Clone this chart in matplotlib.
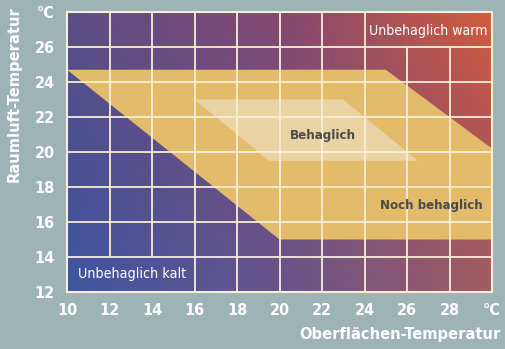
import numpy as np
import matplotlib
matplotlib.use("Agg")
import matplotlib.pyplot as plt
from matplotlib.patches import Polygon
from matplotlib import font_manager
from matplotlib.font_manager import FontProperties

# ---- data ----
x_ticks = [10, 12, 14, 16, 18, 20, 22, 24, 26, 28, 30]
x_labels = ["10", "12", "14", "16", "18", "20", "22", "24", "26", "28", "°C"]
y_ticks = [12, 14, 16, 18, 20, 22, 24, 26, 28]
y_labels = ["12", "14", "16", "18", "20", "22", "24", "26", "°C"]

# "Noch behaglich" band (surface temp, air temp)
band_x = [10, 25, 30, 30, 20]
band_y = [24.7, 24.7, 20.2, 15, 15]
# "Behaglich" zone
comf_x = [16, 23, 26.5, 19.5]
comf_y = [23, 23, 19.5, 19.5]


def find_font(bold):
    cands = []
    for f in font_manager.fontManager.ttflist:
        fn = f.fname.lower()
        if "italic" in fn or "oblique" in fn or "mono" in fn or ("serif" in fn and "sans" not in fn):
            continue
        if ("narrow" in fn or "condensed" in fn) and "sans" in fn:
            isbold = "bold" in fn
            if isbold == bold:
                cands.append(f.fname)
    if cands:
        cands.sort(key=lambda s: (0 if "liberation" in s.lower() else 1, s))
        return FontProperties(fname=cands[0])
    return FontProperties(family="Liberation Sans", weight="bold" if bold else "normal")


fp_reg = find_font(False)
fp_bold = find_font(True)

bg = "#9eb4b4"
fig = plt.figure(figsize=(5.06, 3.49), dpi=100, facecolor=bg)
ax = fig.add_axes([67/506, 1-292/349, (492-67)/506, (292-12)/349])
ax.set_facecolor(bg)

# gradient background (3x3 control colours, top row first)
ctrl = np.array([
    [[90, 78, 134], [132, 72, 112], [210, 92, 62]],
    [[74, 80, 148], [114, 78, 124], [176, 84, 86]],
    [[62, 86, 160], [102, 84, 140], [160, 92, 98]],
], dtype=float) / 255.0
N = 200
u = np.linspace(0, 2, N)
v = np.linspace(0, 2, N)
U, V = np.meshgrid(u, v)
i0 = np.clip(np.floor(V).astype(int), 0, 1)
j0 = np.clip(np.floor(U).astype(int), 0, 1)
fy = (V - i0)[..., None]
fx = (U - j0)[..., None]
img = (ctrl[i0, j0] * (1 - fx) * (1 - fy) + ctrl[i0, j0 + 1] * fx * (1 - fy)
       + ctrl[i0 + 1, j0] * (1 - fx) * fy + ctrl[i0 + 1, j0 + 1] * fx * fy)
ax.imshow(img, extent=(10, 30, 12, 28), interpolation="bilinear",
          aspect="auto", origin="upper", zorder=0)

ax.add_patch(Polygon(list(zip(band_x, band_y)), closed=True,
                     facecolor="#e2bc6a", edgecolor="none", zorder=1))
ax.add_patch(Polygon(list(zip(comf_x, comf_y)), closed=True,
                     facecolor="#e9d3a4", edgecolor="none", zorder=2))

gc = "#f6eed6"
lw = 1.3
for xv in range(12, 30, 2):
    y0, y1 = 12, 28
    if xv in (12, 14):
        y0 = 14
    if xv in (26, 28):
        y1 = 26
    ax.plot([xv, xv], [y0, y1], color=gc, lw=lw, zorder=3, solid_capstyle="butt")
for yv in range(14, 28, 2):
    ax.plot([10, 30], [yv, yv], color=gc, lw=lw, zorder=3, solid_capstyle="butt")

ax.set_xlim(10, 30)
ax.set_ylim(12, 28)
for s in ax.spines.values():
    s.set_color(gc)
    s.set_linewidth(1.5)
    s.set_zorder(4)

ax.set_xticks(x_ticks)
ax.set_xticklabels(x_labels)
ax.set_yticks(y_ticks)
ax.set_yticklabels(y_labels)
ax.tick_params(length=0, colors="white")
ax.tick_params(axis="x", pad=8)
ax.tick_params(axis="y", pad=9)

renderer = fig.canvas.get_renderer()


def fit(t, target_w, horizontal=True):
    t.set_fontsize(12)
    bb = t.get_window_extent(renderer)
    w = bb.width if horizontal else bb.height
    t.set_fontsize(12 * target_w / w)


for t in ax.get_xticklabels() + ax.get_yticklabels():
    t.set_fontproperties(fp_bold)
    t.set_color("white")
tk = ax.get_yticklabels()[7]
fit(tk, 20)
tsize = tk.get_fontsize()
for t in ax.get_xticklabels() + ax.get_yticklabels():
    t.set_fontsize(tsize)

texts = [
    (ax.text(13.06, 13.05, "Unbehaglich kalt", color="white", fontproperties=fp_reg,
             ha="center", va="center", zorder=5), 108),
    (ax.text(27.0, 26.93, "Unbehaglich warm", color="white", fontproperties=fp_reg,
             ha="center", va="center", zorder=5), 118),
    (ax.text(22.05, 20.97, "Behaglich", color="#4a4a4a", fontproperties=fp_bold,
             ha="center", va="center", zorder=5), 66),
    (ax.text(27.15, 16.97, "Noch behaglich", color="#4a4a4a", fontproperties=fp_bold,
             ha="center", va="center", zorder=5), 102),
]
for t, w in texts:
    fit(t, w)

yl = fig.text(14/506, 1-94/349, "Raumluft-Temperatur", color="white", fontproperties=fp_bold,
              rotation=90, ha="center", va="center")
fit(yl, 175, horizontal=False)
xl = fig.text(400/506, 1-334/349, "Oberflächen-Temperatur", color="white", fontproperties=fp_bold,
              ha="center", va="center")
fit(xl, 200)

fig.savefig("out.png", dpi=100, facecolor=bg)
